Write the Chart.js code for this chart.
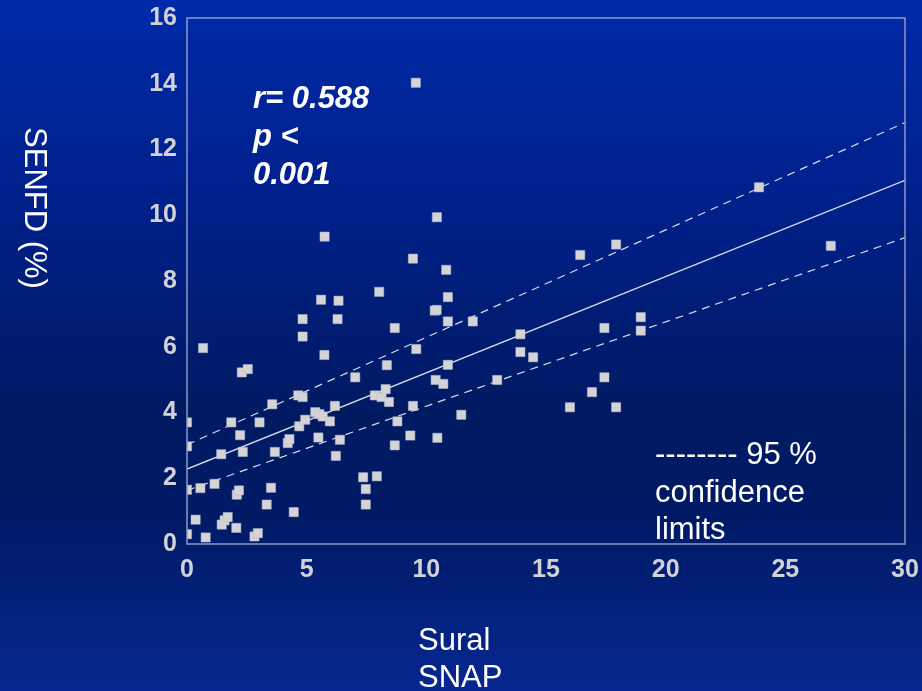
<!DOCTYPE html>
<html>
<head>
<meta charset="utf-8">
<script src="https://cdn.jsdelivr.net/npm/chart.js@4.4.1/dist/chart.umd.min.js"></script>
<style>
  html, body { margin: 0; padding: 0; }
  body {
    width: 922px; height: 691px; overflow: hidden;
    background: linear-gradient(to bottom, #002aa8 0%, #00208a 30%, #001a62 60%, #001a66 75%, #072790 100%);
  }
  #wrap { position: relative; width: 922px; height: 691px; }
</style>
</head>
<body>
<div id="wrap"><canvas id="c" width="922" height="691"></canvas></div>
<script>
// Sural SNAP (x) vs SENFD % (y)
const snapValues = [
  0, 0, 0, 0, 0.67, 0.56, 0.36, 0.78, 1.15, 1.43,
  1.45, 1.57, 1.7, 1.85, 2.06, 2.08, 2.17, 2.22, 2.29, 2.54,
  2.33, 2.82, 2.96, 3.03, 3.33, 3.51, 3.56, 3.67, 4.21, 4.28,
  4.46, 4.65, 4.83, 4.69, 4.94, 4.83, 4.83, 5.6, 5.74, 5.36,
  5.53, 5.67, 5.97, 5.49, 6.18, 6.22, 6.33, 6.29, 6.39, 7.03,
  7.36, 7.47, 7.47, 7.93, 8.03, 7.85, 8.13, 8.3, 8.35, 8.44,
  8.68, 8.68, 8.79, 9.33, 9.44, 9.58, 10.35, 10.43, 10.46, 10.39,
  10.71, 10.9, 10.9, 10.9, 9.56, 5.75, 10.44, 9.44, 10.83, 11.94,
  11.46, 12.96, 13.93, 13.93, 14.46, 16.0, 16.92, 17.44, 17.44, 17.93,
  18.96, 18.96, 16.43, 17.93, 23.9, 26.9
];
const senfdValues = [
  3.7, 2.97, 1.65, 0.3, 5.96, 1.7, 0.74, 0.2, 1.83, 2.73,
  0.59, 0.72, 0.82, 3.7, 0.49, 1.5, 1.63, 3.31, 5.22, 5.32,
  2.8, 0.23, 0.33, 3.7, 1.2, 1.71, 4.25, 2.8, 3.07, 3.19,
  0.97, 4.52, 4.47, 3.58, 3.78, 6.84, 6.31, 7.43, 5.75, 4.01,
  3.95, 3.88, 3.73, 3.24, 4.2, 2.68, 7.4, 6.84, 3.17, 5.07,
  2.03, 1.67, 1.2, 2.06, 7.67, 4.52, 4.47, 4.71, 5.44, 4.32,
  6.57, 3.0, 3.73, 3.3, 4.2, 5.93, 7.1, 7.12, 3.23, 4.99,
  4.87, 5.45, 7.51, 6.77, 14.03, 9.35, 9.94, 8.68, 8.34, 6.77,
  3.93, 4.99, 6.38, 5.84, 5.68, 4.16, 4.62, 5.07, 6.57, 4.16,
  6.9, 6.49, 8.79, 9.11, 10.85, 9.07
];
// Line end points (x = 0 and x = 30)
const lineX = [0, 30];
const fitY = [2.28, 11.06];
const upperY = [3.02, 12.82];
const lowerY = [1.63, 9.32];

const xTicks = [0, 5, 10, 15, 20, 25, 30];
const yTicks = [0, 2, 4, 6, 8, 10, 12, 14, 16];

const annotationLines = ['r= 0.588', 'p <', '0.001'];
const legendLines = ['-------- 95 %', 'confidence', 'limits'];
const xTitleLines = ['Sural', 'SNAP'];
const yTitle = 'SENFD (%)';

const pts = snapValues.map((x, i) => ({ x: x, y: senfdValues[i] }));
const mkLine = ys => lineX.map((x, i) => ({ x: x, y: ys[i] }));

const FONT = '"Liberation Sans", Arial, sans-serif';

const textPlugin = {
  id: 'texts',
  afterDraw(chart) {
    const ctx = chart.ctx;
    const a = chart.chartArea;
    ctx.save();
    // frame
    ctx.strokeStyle = '#8e98c8';
    ctx.lineWidth = 1.5;
    ctx.strokeRect(a.left, a.top, a.right - a.left, a.bottom - a.top);

    ctx.fillStyle = '#ffffff';
    ctx.textAlign = 'left';
    ctx.textBaseline = 'alphabetic';
    ctx.font = 'italic bold 31px ' + FONT;
    annotationLines.forEach((t, i) => ctx.fillText(t, 253, 108 + i * 38));

    ctx.font = '31px ' + FONT;
    legendLines.forEach((t, i) => ctx.fillText(t, 655, 464 + i * 37.5));

    ctx.font = '31px ' + FONT;
    xTitleLines.forEach((t, i) => ctx.fillText(t, 418, 650 + i * 37));

    ctx.translate(34, 208);
    ctx.rotate(Math.PI / 2);
    ctx.textAlign = 'center';
    ctx.textBaseline = 'middle';
    ctx.fillText(yTitle, 0, 0);
    ctx.restore();
  }
};

new Chart(document.getElementById('c'), {
  type: 'scatter',
  data: {
    datasets: [
      {
        label: 'SENFD',
        data: pts,
        pointStyle: 'rect',
        pointRadius: 6.5,
        pointHoverRadius: 6.5,
        backgroundColor: '#d4d4d6',
        borderColor: '#b8bccc',
        borderWidth: 0.5,
        order: 0
      },
      {
        type: 'line', label: 'fit', data: mkLine(fitY),
        borderColor: '#d8dcea', borderWidth: 1.3, pointRadius: 0, fill: false, order: 1
      },
      {
        type: 'line', label: 'upper', data: mkLine(upperY),
        borderColor: '#d8dcea', borderWidth: 1.2, borderDash: [8, 6], pointRadius: 0, fill: false, order: 1
      },
      {
        type: 'line', label: 'lower', data: mkLine(lowerY),
        borderColor: '#d8dcea', borderWidth: 1.2, borderDash: [8, 6], pointRadius: 0, fill: false, order: 1
      }
    ]
  },
  options: {
    responsive: false,
    animation: false,
    layout: { padding: { left: 0, right: 17, top: 18, bottom: 0 } },
    plugins: { legend: { display: false }, tooltip: { enabled: false } },
    scales: {
      x: {
        type: 'linear', min: 0, max: 30,
        afterBuildTicks: s => { s.ticks = xTicks.map(v => ({ value: v })); },
        afterFit: s => { s.height = 691 - 544; s.paddingLeft = 0; s.paddingRight = 0; },
        grid: { display: false, drawTicks: false },
        border: { display: false },
        ticks: { color: '#d2d2d6', font: { family: FONT, size: 25, weight: 'bold' }, padding: 11, maxRotation: 0 }
      },
      y: {
        type: 'linear', min: 0, max: 16,
        afterBuildTicks: s => { s.ticks = yTicks.map(v => ({ value: v })); },
        afterFit: s => { s.width = 187; s.paddingTop = 0; s.paddingBottom = 0; },
        grid: { display: false, drawTicks: false },
        border: { display: false },
        ticks: { color: '#d2d2d6', font: { family: FONT, size: 25, weight: 'bold' }, padding: 10 }
      }
    }
  },
  plugins: [textPlugin]
});
</script>
</body>
</html>
